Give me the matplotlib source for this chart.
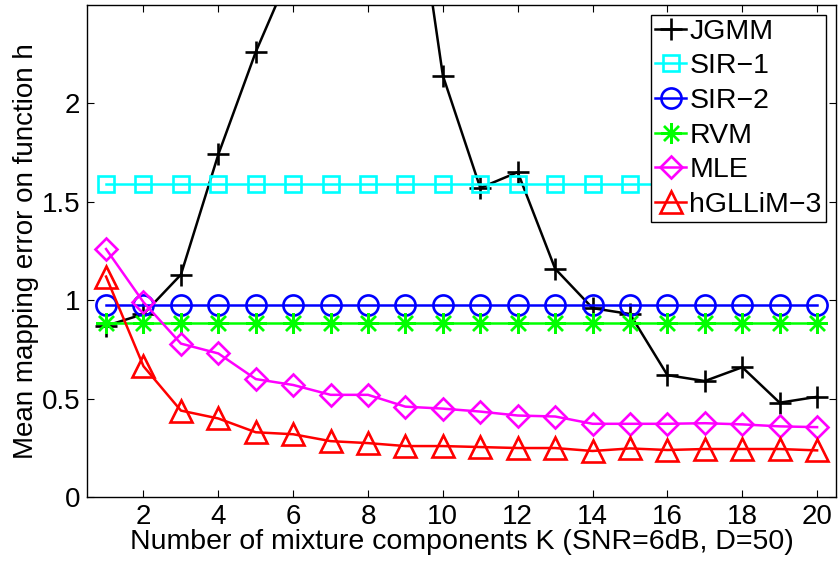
import matplotlib
matplotlib.use("Agg")
import matplotlib.pyplot as plt
import numpy as np

plt.rcParams['font.family'] = ['Liberation Sans', 'DejaVu Sans']

K = list(range(1, 21))
jgmm = [0.87, 0.93, 1.13, 1.74, 2.26, 2.70, 3.10, 3.40, 3.45, 2.14,
        1.57, 1.65, 1.16, 0.96, 0.93, 0.62, 0.59, 0.66, 0.48, 0.51]
sir1 = [1.588] * 20
sir2 = [0.977] * 20
rvm = [0.885] * 20
mle = [1.26, 0.99, 0.78, 0.73, 0.60, 0.57, 0.52, 0.52, 0.46, 0.45,
       0.435, 0.415, 0.41, 0.373, 0.373, 0.373, 0.376, 0.37, 0.36, 0.356]
hgllim = [1.12, 0.665, 0.44, 0.40, 0.33, 0.32, 0.285, 0.275, 0.26, 0.26,
          0.255, 0.25, 0.25, 0.235, 0.248, 0.24, 0.245, 0.245, 0.245, 0.238]

labels = ['JGMM', 'SIR\u22121', 'SIR\u22122', 'RVM', 'MLE', 'hGLLiM\u22123']
xticks = [2, 4, 6, 8, 10, 12, 14, 16, 18, 20]
yticks = [0, 0.5, 1, 1.5, 2]
ytick_labels = ['0', '0.5', '1', '1.5', '2']

fig = plt.figure(figsize=(8.4, 5.63), dpi=100)
ax = fig.add_axes([0.104, 0.1167, 0.891, 0.875])

lw = 1.8
ax.plot(K, jgmm, color='black', marker='+', markersize=16, mew=1.9, lw=lw, label=labels[0])
ax.plot(K, sir1, color='cyan', marker='s', markersize=11, mfc='none', mew=1.9, lw=lw, label=labels[1])
ax.plot(K, sir2, color='blue', marker='o', markersize=14.5, mfc='none', mew=1.9, lw=lw, label=labels[2])
ax.plot(K, rvm, color=(0, 1, 0), marker=(8, 2, 0), markersize=15, mew=1.7, lw=lw, label=labels[3])
ax.plot(K, mle, color='magenta', marker='D', markersize=11, mfc='none', mew=1.9, lw=lw, label=labels[4])
ax.plot(K, hgllim, color='red', marker='^', markersize=16, mfc='none', mew=1.9, lw=lw, label=labels[5])

ax.set_xlim(0.5, 20.5)
ax.set_ylim(0, 2.5)
ax.set_xticks(xticks)
ax.set_yticks(yticks)
ax.set_yticklabels(ytick_labels)
ax.tick_params(direction='in', length=5, width=0.8, top=True, right=True, labelsize=20, pad=5)
for s in ax.spines.values():
    s.set_linewidth(1.0)

ax.set_xlabel('Number of mixture components K (SNR=6dB, D=50)', fontsize=20.5, labelpad=-1)
ax.set_ylabel('Mean mapping error on function h', fontsize=20, labelpad=2)

leg = ax.legend(loc='upper right', fontsize=20.5, frameon=True, fancybox=False,
                edgecolor='black', framealpha=1, handlelength=1.1, handletextpad=0.1,
                labelspacing=0.3, borderpad=0.15, borderaxespad=0.35)
leg.get_frame().set_linewidth(1.0)

fig.savefig('out.png', dpi=100)
